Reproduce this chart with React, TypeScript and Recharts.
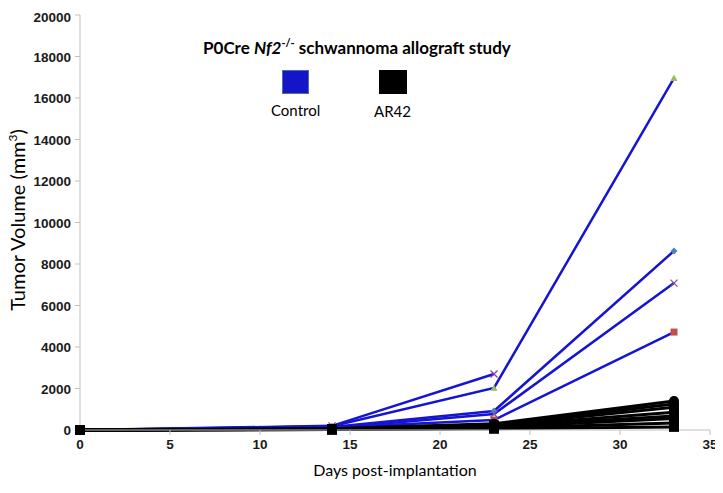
import { LineChart, Line, XAxis, YAxis } from 'recharts';

const days = [0, 14, 23, 33];
const xTicks = [0, 5, 10, 15, 20, 25, 30, 35];
const yTicks = [0, 2000, 4000, 6000, 8000, 10000, 12000, 14000, 16000, 18000, 20000];

// control mice (blue lines)
const ctrlDiamond = [0, 150, 916, 8630];
const ctrlSquare = [0, 120, 480, 4720];
const ctrlTriangle = [0, 180, 2030, 16960];
const ctrlCross = [0, 100, 770, 7080];
const ctrlStar = [0, 200, 2700, null];

// AR42 treated mice (black lines)
const ar1 = [0, 60, 300, 1400];
const ar2 = [0, 50, 260, 1250];
const ar3 = [0, 40, 220, 1100];
const ar4 = [0, 45, 190, 850];
const ar5 = [0, 35, 160, 680];
const ar6 = [0, 30, 130, 560];
const ar7 = [0, 25, 90, 340];
const ar8 = [0, 20, 60, 150];

const controlSeries = [
  { key: 'c1', values: ctrlDiamond, shape: 'diamond', color: '#4F81BD' },
  { key: 'c2', values: ctrlSquare, shape: 'square', color: '#C0504D' },
  { key: 'c3', values: ctrlTriangle, shape: 'triangle', color: '#9BBB59' },
  { key: 'c4', values: ctrlCross, shape: 'cross', color: '#7A4FA0' },
  { key: 'c5', values: ctrlStar, shape: 'cross', color: '#8A3FA8' },
];

const arSeries = [
  { key: 'a1', values: ar1, shape: 'circle' },
  { key: 'a2', values: ar2, shape: 'circle' },
  { key: 'a3', values: ar3, shape: 'square' },
  { key: 'a4', values: ar4, shape: 'circle' },
  { key: 'a5', values: ar5, shape: 'circle' },
  { key: 'a6', values: ar6, shape: 'square' },
  { key: 'a7', values: ar7, shape: 'square' },
  { key: 'a8', values: ar8, shape: 'square' },
];

const data = days.map((d, i) => {
  const row: Record<string, number | null> = { day: d };
  controlSeries.forEach((s) => (row[s.key] = s.values[i]));
  arSeries.forEach((s) => (row[s.key] = s.values[i]));
  return row;
});

const makeDot = (shape: string, color: string, r: number) => (props: any) => {
  const { cx, cy, index } = props;
  if (cx == null || cy == null || isNaN(cy)) return <g key={index} />;
  if (shape === 'diamond')
    return <polygon key={index} points={`${cx},${cy - r} ${cx + r},${cy} ${cx},${cy + r} ${cx - r},${cy}`} fill={color} />;
  if (shape === 'square')
    return <rect key={index} x={cx - r} y={cy - r} width={2 * r} height={2 * r} fill={color} />;
  if (shape === 'triangle')
    return <polygon key={index} points={`${cx},${cy - r} ${cx + r},${cy + r * 0.8} ${cx - r},${cy + r * 0.8}`} fill={color} />;
  if (shape === 'circle') return <circle key={index} cx={cx} cy={cy} r={r} fill={color} />;
  return (
    <g key={index} stroke={color} strokeWidth={1.3}>
      <line x1={cx - r} y1={cy - r} x2={cx + r} y2={cy + r} />
      <line x1={cx - r} y1={cy + r} x2={cx + r} y2={cy - r} />
    </g>
  );
};

const tickFont = '"Liberation Sans", Arial, sans-serif';
const labelFont = 'Lato, "Open Sans", sans-serif';

const XTick = ({ x, y, payload }: any) => (
  <text x={x} y={y + 12} textAnchor="middle" fontFamily={tickFont} fontWeight={700} fontSize={13.5} fill="#1a1a1a">
    {payload.value}
  </text>
);

const YTick = ({ x, y, payload }: any) => (
  <text x={x - 2} y={y + 5} textAnchor="end" fontFamily={tickFont} fontWeight={700} fontSize={13.5} fill="#1a1a1a">
    {payload.value}
  </text>
);

export default function App() {
  return (
    <div style={{ position: 'relative', width: 715, height: 485, background: '#fff' }}>
      <LineChart width={715} height={485} data={data} margin={{ top: 7, right: 13, left: 0, bottom: 0 }}>
        <XAxis
          type="number"
          dataKey="day"
          domain={[0, 35]}
          ticks={xTicks}
          axisLine={{ stroke: '#BFBFBF' }}
          tickLine={{ stroke: '#BFBFBF' }}
          tickSize={5}
          tick={<XTick />}
          height={63}
        />
        <YAxis
          type="number"
          domain={[0, 20000]}
          ticks={yTicks}
          axisLine={{ stroke: '#BFBFBF' }}
          tickLine={{ stroke: '#BFBFBF' }}
          tickSize={5}
          tick={<YTick />}
          width={72}
        />
        {controlSeries.map((s) => (
          <Line
            key={s.key}
            dataKey={s.key}
            stroke="#1414D2"
            strokeWidth={2.5}
            dot={makeDot(s.shape, s.color, 3.5)}
            activeDot={false}
            isAnimationActive={false}
          />
        ))}
        {arSeries.map((s) => (
          <Line
            key={s.key}
            dataKey={s.key}
            stroke="#000"
            strokeWidth={3}
            dot={makeDot(s.shape, '#000', 5)}
            activeDot={false}
            isAnimationActive={false}
          />
        ))}
      </LineChart>

      <div style={{ position: 'absolute', left: 195, top: 28, fontFamily: labelFont, fontWeight: 'bold', fontSize: 17, whiteSpace: 'nowrap' }}>
        P0Cre <i>Nf2</i>
        <sup style={{ fontSize: 11 }}>-/-</sup> schwannoma allograft study
      </div>
      <div style={{ position: 'absolute', left: 274, top: 62, width: 27, height: 24, background: '#1414C8', border: '1px solid #4F6FA0', boxSizing: 'border-box' }} />
      <div style={{ position: 'absolute', left: 371, top: 62, width: 28, height: 24, background: '#000' }} />
      <div style={{ position: 'absolute', left: 263, top: 93, fontFamily: labelFont, fontSize: 15, whiteSpace: 'nowrap' }}>Control</div>
      <div style={{ position: 'absolute', left: 366, top: 94, fontFamily: labelFont, fontSize: 15, whiteSpace: 'nowrap' }}>AR42</div>

      <div style={{ position: 'absolute', left: 0, width: 702, top: 452, textAlign: 'center', paddingLeft: 72, boxSizing: 'border-box', fontFamily: labelFont, fontSize: 16, whiteSpace: 'nowrap' }}>
        Days post-implantation
      </div>
      <div
        style={{
          position: 'absolute',
          left: 9,
          top: 212,
          transform: 'translate(-50%, -50%) rotate(-90deg)',
          fontFamily: labelFont,
          fontSize: 20,
          whiteSpace: 'nowrap',
        }}
      >
        Tumor Volume (mm<sup style={{ fontSize: 12 }}>3</sup>)
      </div>
    </div>
  );
}
